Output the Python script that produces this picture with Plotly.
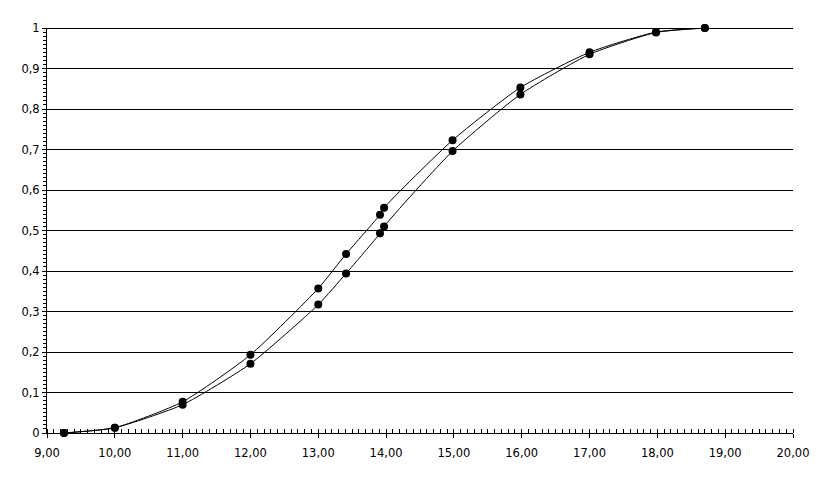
import plotly.graph_objects as go

x_vals = [9.25, 10.0, 11.0, 12.0, 13.0, 13.41, 13.91, 13.97, 14.98, 15.98, 17.0, 17.98, 18.70]
series_a = [0.0, 0.013, 0.077, 0.193, 0.357, 0.442, 0.539, 0.556, 0.723, 0.853, 0.940, 0.990, 1.0]
series_b = [0.0, 0.013, 0.070, 0.171, 0.317, 0.394, 0.493, 0.510, 0.696, 0.836, 0.935, 0.989, 1.0]

x_ticks = [9, 10, 11, 12, 13, 14, 15, 16, 17, 18, 19, 20]
x_tick_labels = ["9,00", "10,00", "11,00", "12,00", "13,00", "14,00", "15,00",
                 "16,00", "17,00", "18,00", "19,00", "20,00"]
y_ticks = [0, 0.1, 0.2, 0.3, 0.4, 0.5, 0.6, 0.7, 0.8, 0.9, 1.0]
y_tick_labels = ["0", "0,1", "0,2", "0,3", "0,4", "0,5", "0,6", "0,7", "0,8", "0,9", "1"]

fig = go.Figure()
for name, ys in [("A", series_a), ("B", series_b)]:
    fig.add_trace(go.Scatter(
        x=x_vals, y=ys, name=name, mode="lines+markers",
        line=dict(color="black", width=1, shape="spline", smoothing=0.55),
        marker=dict(color="black", size=8),
        showlegend=False, cliponaxis=False,
    ))

# top gridline at y = 1 (nudged half a pixel so it renders crisp)
top_y = 1 - 0.5 / 405
fig.add_shape(type="line", xref="paper", yref="y", x0=0, x1=1, y0=top_y, y1=top_y,
              line=dict(color="black", width=1), layer="below")

axis_font = dict(family="DejaVu Sans", size=11.5, color="black")
fig.update_layout(
    width=810, height=465,
    margin=dict(l=39, r=25, t=20, b=40),
    paper_bgcolor="white", plot_bgcolor="white",
    font=axis_font,
    xaxis=dict(
        range=[9, 20], tickvals=x_ticks, ticktext=x_tick_labels,
        showgrid=False, zeroline=False, showline=True, linecolor="black", linewidth=1,
        ticks="outside", ticklen=4, tickcolor="black", ticklabelstandoff=5,
        minor=dict(dtick=0.1, ticks="inside", ticklen=4, tickcolor="black", showgrid=False),
        tickfont=axis_font, automargin=False,
    ),
    yaxis=dict(
        range=[0, 1], tickvals=y_ticks, ticktext=y_tick_labels,
        showgrid=True, gridcolor="black", gridwidth=1, zeroline=False,
        showline=True, linecolor="black", linewidth=1,
        ticks="outside", ticklen=4, tickcolor="black",
        minor=dict(dtick=0.01, ticks="outside", ticklen=3, tickcolor="black", showgrid=False),
        tickfont=axis_font, automargin=False,
    ),
)
fig.write_html("out.html")
